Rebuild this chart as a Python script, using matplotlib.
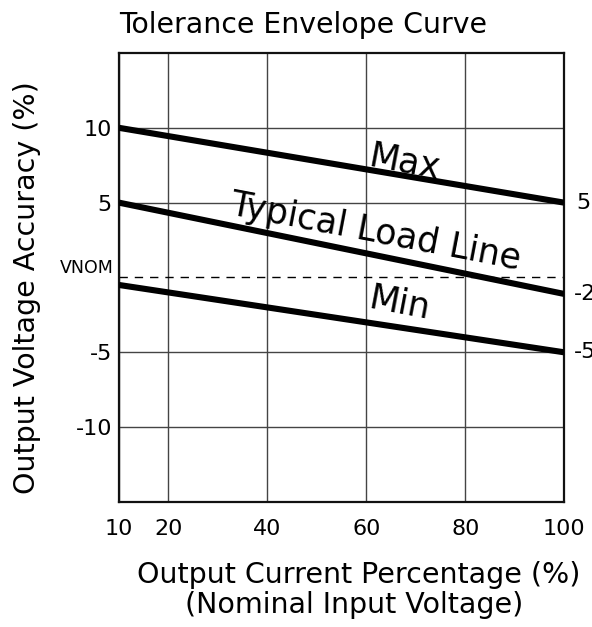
import numpy as np
import matplotlib
matplotlib.use('Agg')
import matplotlib.pyplot as plt

# values
x_pct = [10, 100]
max_acc = [10, 5]
typ_acc = [5, -1.1]
min_acc = [-0.5, -5]
vnom = 0
x_ticks = [10, 20, 40, 60, 80, 100]
y_ticks = [-10, -5, 5, 10]
end_labels = ['5', '-2', '-5']
line_names = ['Max', 'Typical Load Line', 'Min']
# where the curve names sit (data coords)
name_pos = [(67.8, 7.7), (61.8, 3.05), (66.8, -1.8)]

plt.rcParams['font.family'] = 'DejaVu Sans'

fig = plt.figure(figsize=(5.92, 6.27), dpi=100)
ax = fig.add_axes([0.201, 0.1994, 0.752, 0.7161])

for ys in (max_acc, typ_acc, min_acc):
    ax.plot(x_pct, ys, color='black', lw=4.4, solid_capstyle='butt', zorder=3)

ax.axhline(vnom, color='black', lw=1.0, dashes=(6, 5), zorder=2)

ax.set_xlim(10, 100)
ax.set_ylim(-15, 15)
ax.set_xticks(x_ticks)
ax.set_yticks(y_ticks)
ax.set_yticklabels([str(v) for v in y_ticks])
ax.tick_params(axis='both', length=0, labelsize=16)
ax.tick_params(axis='x', pad=12)
ax.tick_params(axis='y', pad=5)
ax.grid(True, color='#444444', lw=1.0)
for sp in ax.spines.values():
    sp.set_linewidth(1.6)
    sp.set_color('#111111')

ax.text(8.9, vnom, 'VNOM', ha='right', va='bottom', fontsize=12.5)

for name, (tx, ty) in zip(line_names, name_pos):
    ax.text(tx, ty, name, fontsize=25, rotation=-10.8, rotation_mode='anchor',
            ha='center', va='center')

# end values, the negative ones run off the right edge as in the original
ends = [max_acc[-1], typ_acc[-1], min_acc[-1]]
for lab, yv in zip(end_labels, ends):
    off = 9 if lab[0] != '-' else 7
    ax.annotate(lab, xy=(100, yv), xytext=(off, 0), textcoords='offset points',
                ha='left', va='center', fontsize=16, annotation_clip=False)

fig.text(0.512, 0.947, 'Tolerance Envelope Curve', ha='center', va='baseline',
         fontsize=20.4)
fig.text(0.0456, 0.542, 'Output Voltage Accuracy (%)', rotation=90,
         ha='center', va='center', fontsize=20.5)
fig.text(0.606, 0.0702, 'Output Current Percentage (%)', ha='center',
         va='baseline', fontsize=20.5)
fig.text(0.598, 0.0223, '(Nominal Input Voltage)', ha='center',
         va='baseline', fontsize=20.5)

fig.savefig('out.png', dpi=100)
